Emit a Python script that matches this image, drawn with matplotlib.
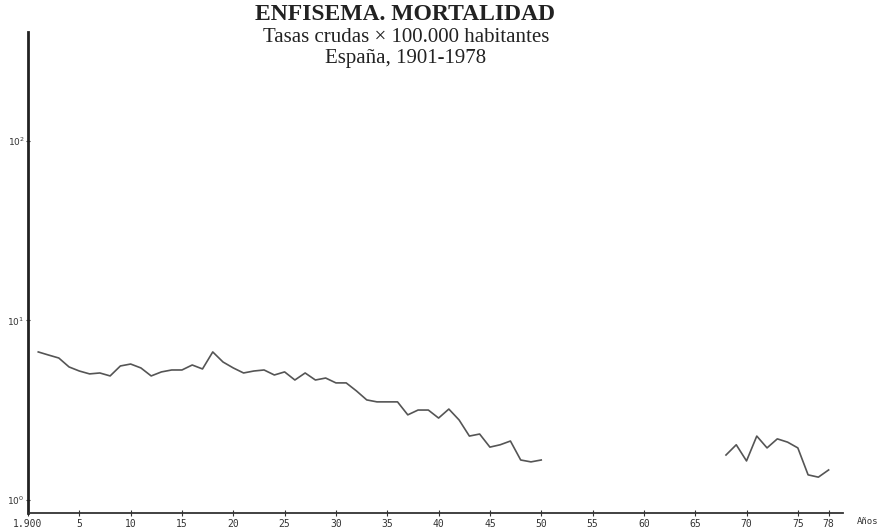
import numpy as np
import matplotlib
matplotlib.use("Agg")
import matplotlib.pyplot as plt
from matplotlib.ticker import FixedLocator, FixedFormatter

# --- datos (tasas crudas x 100.000 habitantes) ---
years_a = list(range(1901, 1951))
rates_a = [6.68, 6.42, 6.18, 5.51, 5.23, 5.04, 5.10, 4.91, 5.58, 5.72,
           5.44, 4.91, 5.17, 5.30, 5.30, 5.65, 5.37, 6.68, 5.87, 5.44,
           5.10, 5.23, 5.30, 4.97, 5.17, 4.66, 5.10, 4.66, 4.78, 4.49,
           4.49, 4.05, 3.61, 3.52, 3.52, 3.52, 2.98, 3.17, 3.17, 2.86,
           3.21, 2.79, 2.27, 2.33, 1.97, 2.03, 2.13, 1.67, 1.63, 1.67]

years_b = list(range(1968, 1979))
rates_b = [1.78, 2.03, 1.65, 2.27, 1.95, 2.19, 2.10, 1.95, 1.38, 1.34, 1.47]

xtick_pos = [1900, 1905, 1910, 1915, 1920, 1925, 1930, 1935, 1940, 1945,
             1950, 1955, 1960, 1965, 1970, 1975, 1978]
xtick_lab = ["1.900", "5", "10", "15", "20", "25", "30", "35", "40", "45",
             "50", "55", "60", "65", "70", "75", "78"]
ytick_pos = [1, 10, 100]
ytick_lab = [r"$10^{0}$", r"$10^{1}$", r"$10^{2}$"]

title = "ENFISEMA. MORTALIDAD"
subtitle_1 = "Tasas crudas \u00d7 100.000 habitantes"
subtitle_2 = "Espa\u00f1a, 1901-1978"

fig = plt.figure(figsize=(8.77, 5.32), dpi=100)
ax = fig.add_axes([28 / 877, 1 - 513 / 532, 815 / 877, 481 / 532])

line_color = "#555555"
ax.plot(years_a, rates_a, color=line_color, lw=1.2)
ax.plot(years_b, rates_b, color=line_color, lw=1.2)

ax.set_yscale("log")
ax.set_xlim(1900, 1979.4)
ax.set_ylim(0.846, 405)

ax.xaxis.set_major_locator(FixedLocator(xtick_pos))
ax.xaxis.set_major_formatter(FixedFormatter(xtick_lab))
ax.yaxis.set_major_locator(FixedLocator(ytick_pos))
ax.yaxis.set_major_formatter(FixedFormatter(ytick_lab))
ax.yaxis.set_minor_locator(FixedLocator([]))

ax.tick_params(axis="x", direction="inout", length=4, width=0.8,
               labelsize=7, pad=2, colors="#333333")
ax.tick_params(axis="y", direction="inout", length=3, width=0.8,
               labelsize=6.5, pad=1, colors="#333333")
for lbl in ax.get_xticklabels():
    lbl.set_family("DejaVu Sans Mono")

for s in ["top", "right"]:
    ax.spines[s].set_visible(False)
ax.spines["left"].set_linewidth(2.0)
ax.spines["left"].set_color("#222222")
ax.spines["bottom"].set_linewidth(1.3)
ax.spines["bottom"].set_color("#333333")

ax.annotate("Años", xy=(1, 0), xycoords="axes fraction", xytext=(10, -3),
            textcoords="offset points", ha="left", va="top", fontsize=6.5,
            family="DejaVu Sans Mono", color="#333333")

fig.text(405 / 877, 1 - 14 / 532, title, ha="center", va="center",
         fontsize=17, fontweight="bold", family="Liberation Serif",
         color="#222222")
fig.text(406 / 877, 1 - 38 / 532, subtitle_1, ha="center", va="center",
         fontsize=15, family="Liberation Serif", color="#222222")
fig.text(406 / 877, 1 - 58 / 532, subtitle_2, ha="center", va="center",
         fontsize=15, family="Liberation Serif", color="#222222")

fig.savefig("out.png", dpi=100)
